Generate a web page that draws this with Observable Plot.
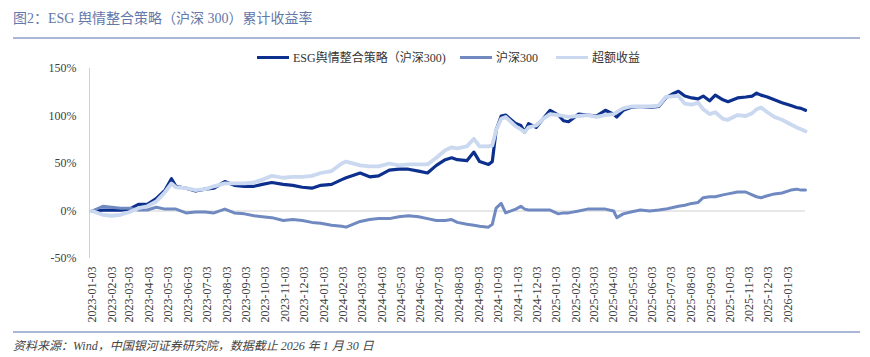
<!DOCTYPE html>
<html>
<head>
<meta charset="utf-8">
<script src="https://cdn.jsdelivr.net/npm/d3@7"></script>
<script src="https://cdn.jsdelivr.net/npm/@observablehq/plot@0.6"></script>
<style>
  html, body { margin: 0; padding: 0; background: #fff; }
  #wrap { position: relative; width: 870px; height: 357px; overflow: hidden;
    font-family: "Liberation Serif", "Noto Sans CJK SC", serif; }
  #title { position: absolute; left: 13px; top: 7px; font-size: 14px; color: #6578aa; white-space: nowrap; }
  #tline { position: absolute; left: 13px; top: 37px; width: 847px; height: 2px; background: #a9b6d6; }
  #fline { position: absolute; left: 13px; top: 331px; width: 847px; height: 2px; background: #a9b6d6; }
  #foot { position: absolute; left: 13px; top: 336px; font-size: 12px; font-style: italic; color: #444; white-space: nowrap; }
  #legend { position: absolute; top: 49px; left: 0; width: 870px; height: 16px; font-size: 12px; color: #333; }
  .li { position: absolute; top: 0; display: flex; align-items: center; white-space: nowrap; height: 16px; }
  .sw { width: 32px; height: 3px; margin-right: 4px; }
  #chart { position: absolute; left: 0; top: 40px; }
</style>
</head>
<body>
<div id="wrap">
  <div id="title">图2：ESG 舆情整合策略（沪深 300）累计收益率</div>
  <div id="tline"></div>
  <div id="legend"></div>
  <div id="chart"></div>
  <div id="fline"></div>
  <div id="foot">资料来源：Wind，中国银河证券研究院，数据截止 2026 年 1 月 30 日</div>
</div>
<script>
const seriesNames = ["ESG舆情整合策略（沪深300)", "沪深300", "超额收益"];
const seriesColors = ["#0d308f", "#7089c0", "#cad8f0"];

const dates = [
  "2023-01-03","2023-01-20","2023-02-03","2023-02-17","2023-03-03","2023-03-17","2023-03-31","2023-04-14",
  "2023-04-28","2023-05-08","2023-05-15","2023-05-31","2023-06-15","2023-06-30","2023-07-14","2023-07-31",
  "2023-08-15","2023-08-31","2023-09-15","2023-09-28","2023-10-13","2023-10-31","2023-11-15","2023-11-30",
  "2023-12-15","2023-12-29","2024-01-15","2024-01-31","2024-02-07","2024-02-29","2024-03-15","2024-03-29",
  "2024-04-15","2024-04-30","2024-05-15","2024-05-31","2024-06-14","2024-06-28","2024-07-12","2024-07-22",
  "2024-07-31","2024-08-15","2024-08-26","2024-09-04","2024-09-18","2024-09-24","2024-09-30","2024-10-08",
  "2024-10-15","2024-10-31","2024-11-08","2024-11-14","2024-11-20","2024-12-02","2024-12-13","2024-12-24",
  "2025-01-06","2025-01-14","2025-01-22","2025-02-07","2025-02-21","2025-03-07","2025-03-21","2025-04-03",
  "2025-04-08","2025-04-18","2025-04-30","2025-05-15","2025-05-30","2025-06-13","2025-06-24","2025-07-07",
  "2025-07-14","2025-07-24","2025-08-04","2025-08-14","2025-08-22","2025-09-01","2025-09-10","2025-09-22",
  "2025-09-30","2025-10-15","2025-10-28","2025-11-07","2025-11-14","2025-11-21","2025-12-01","2025-12-12",
  "2025-12-24","2026-01-07","2026-01-16","2026-01-23","2026-01-30"
];
// cumulative returns in %
const esg = [
  0,1,1,1,2,7,7,13,
  22,34,26,24,21,23,24,31,
  27,26,26,28,30,28,27,25,
  24,27,28,33,35,40,36,37,
  43,44,44,42,40,48,54,56,
  54,53,62,52,49,52,85,100,
  101,92,90,83,92,88,97,106,
  101,95,94,102,101,100,106,102,
  99,106,109,110,109,110,119,124,
  126,121,119,118,121,116,122,117,
  115,119,120,121,124,122,120,117,
  114,111,109,108,106
];
const hs300 = [
  0,5,4,3,3,1,1,4,
  2,2,2,-2,-1,-1,-2,2,
  -2,-3,-5,-6,-7,-10,-9,-10,
  -12,-13,-15,-16,-17,-11,-9,-8,
  -8,-6,-5,-6,-8,-10,-10,-9,
  -12,-14,-15,-16,-17,-14,3,8,
  -2,2,5,2,1,1,1,1,
  -3,-2,-2,0,2,2,2,0,
  -7,-3,-1,1,0,1,2,4,
  5,6,8,9,14,15,15,17,
  18,20,20,17,15,14,16,18,
  19,22,23,22,22
];
const excess = [
  0,-4,-5,-4,-1,3,5,10,
  20,29,25,24,22,23,26,29,
  29,29,30,33,37,35,36,36,
  37,40,42,50,52,48,47,47,
  50,48,49,49,49,56,64,67,
  66,68,76,68,68,69,85,97,
  99,89,86,83,88,90,97,102,
  101,100,99,100,101,99,101,102,
  104,108,110,110,110,111,120,121,
  121,113,112,114,107,102,104,97,
  96,101,100,103,107,109,104,99,
  96,91,88,86,84
];
const tickDates = [];
for (let y = 2023; y <= 2026; y++) for (let m = 1; m <= 12; m++) {
  if (y === 2026 && m > 1) break;
  tickDates.push(`${y}-${String(m).padStart(2, "0")}-03`);
}
const yTicks = [-50, 0, 50, 100, 150];

const rows = [];
const vals = [esg, hs300, excess];
seriesNames.forEach((s, k) => dates.forEach((d, i) => rows.push({series: s, date: new Date(d), value: vals[k][i]})));

// legend
const lg = document.getElementById("legend");
const lefts = [257, 460, 556];
seriesNames.forEach((s, k) => {
  const it = document.createElement("div");
  it.className = "li"; it.style.left = lefts[k] + "px";
  it.innerHTML = `<div class="sw" style="background:${seriesColors[k]}"></div><span>${s}</span>`;
  lg.appendChild(it);
});

const font = `"Liberation Serif", "Noto Sans CJK SC", serif`;
const widths = {"超额收益": 3.8, "沪深300": 3};
const chart = Plot.plot({
  width: 870, height: 290,
  marginLeft: 89, marginRight: 65, marginTop: 28, marginBottom: 72,
  style: {fontFamily: font, fontSize: "12px", color: "#404040", background: "transparent"},
  x: {type: "utc", domain: [new Date("2022-12-30"), new Date("2026-01-30")], label: null},
  y: {domain: [-50, 150], label: null},
  color: {domain: seriesNames, range: seriesColors},
  marks: [
    Plot.ruleY([0], {stroke: "#d0d0d0", strokeWidth: 1}),
    Plot.ruleX([new Date("2022-12-30")], {y1: -50, y2: 150, stroke: "#d0d0d0", strokeWidth: 1}),
    Plot.axisY({ticks: yTicks, tickSize: 0, tickPadding: 13, tickFormat: d => d + "%", fontSize: 12, label: null}),
    Plot.axisX({ticks: tickDates.map(d => new Date(d)), tickSize: 0, tickPadding: 8, tickRotate: -90,
      tickFormat: d => d3.utcFormat("%Y-%m-%d")(d), fontSize: 12, label: null}),
    Plot.line(rows, {x: "date", y: "value", z: "series", stroke: "series",
      strokeWidth: d => widths[d.series] ?? 3.2, strokeLinejoin: "round"})
  ]
});
document.getElementById("chart").appendChild(chart);
</script>
</body>
</html>
